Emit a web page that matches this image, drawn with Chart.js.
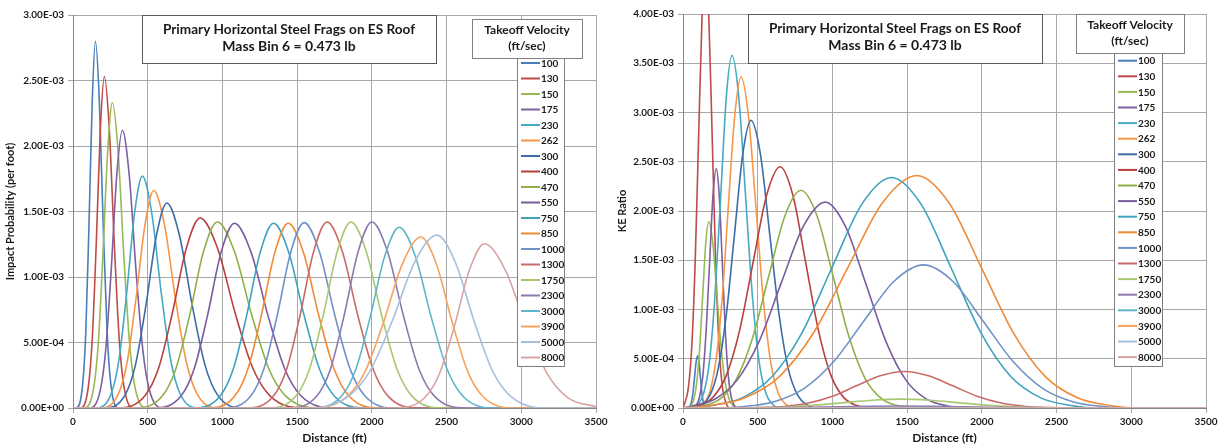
<!DOCTYPE html>
<html>
<head>
<meta charset="utf-8">
<script src="https://cdn.jsdelivr.net/npm/chart.js@4.4.1/dist/chart.umd.min.js"></script>
<style>
  html, body { margin: 0; padding: 0; background: #fff; }
  #wrap { position: relative; width: 1225px; height: 447px; }
  .pane { position: absolute; top: 0; height: 447px; }
  #left-pane { left: 0; width: 612px; }
  #right-pane { left: 612px; width: 613px; }
</style>
</head>
<body>
<div id="wrap">
  <div class="pane" id="left-pane"><canvas id="impact-chart"></canvas></div>
  <div class="pane" id="right-pane"><canvas id="ke-chart"></canvas></div>
</div>
<script>
// ── Data ──────────────────────────────────────────────────────────────────────

const titleLines = ["Primary Horizontal Steel Frags on ES Roof", "Mass Bin 6 = 0.473 lb"];
const legendTitle = ["Takeoff Velocity", "(ft/sec)"];

const velocities = ["100", "130", "150", "175", "230", "262", "300", "400", "470", "550",
                    "750", "850", "1000", "1300", "1750", "2300", "3000", "3900", "5000", "8000"];

const seriesColors = [
  "#4a7ebb", "#be4b48", "#98b954", "#7d60a0", "#46aac5", "#f79646",
  "#3c6ca6", "#b8413e", "#8fb04b", "#7a5c9e", "#3fa3be", "#ef8a36",
  "#6f93c6", "#c96a68", "#a9c673", "#8d79ae", "#5fb6cc", "#f7a35e",
  "#a8bfdc", "#d8a4a3",
];

// impact probability per foot, [distance ft, value x 1e-3]
const impactCurves = [
  [[0,0],[21,0],[64,0.175],[86,0.59],[107,1.40],[129,2.35],[150,2.80],[176,2.35],[202,1.40],[228,0.59],[254,0.175],[306,0],[3500,0]],
  [[0,0],[48,0],[102,0.158],[129,0.531],[156,1.265],[183,2.125],[210,2.53],[243,2.125],[276,1.265],[309,0.531],[342,0.158],[408,0],[3500,0]],
  [[0,0],[74,0],[137,0.146],[169,0.489],[200,1.165],[232,1.957],[263,2.33],[302,1.957],[340,1.165],[379,0.489],[417,0.146],[494,0],[3500,0]],
  [[0,0],[108,0],[182,0.133],[219,0.445],[256,1.06],[293,1.781],[330,2.12],[376,1.781],[421,1.06],[467,0.445],[512,0.133],[603,0],[3500,0]],
  [[0,0],[152,0],[256,0.111],[308,0.372],[360,0.885],[412,1.487],[464,1.77],[527,1.487],[590,0.885],[653,0.372],[716,0.111],[842,0],[3500,0]],
  [[0,0],[183,0],[302,0.104],[362,0.349],[421,0.83],[481,1.394],[540,1.66],[613,1.394],[686,0.83],[759,0.349],[832,0.104],[978,0],[3500,0]],
  [[0,0],[208,0],[348,0.098],[418,0.329],[488,0.783],[558,1.315],[628,1.565],[713,1.315],[798,0.783],[883,0.329],[968,0.098],[1138,0],[3500,0]],
  [[0,0],[295,0],[480,0.091],[573,0.305],[665,0.725],[758,1.218],[850,1.45],[968,1.218],[1085,0.725],[1203,0.305],[1320,0.091],[1555,0],[3500,0]],
  [[0,0],[411,0],[596,0.089],[688,0.298],[781,0.71],[873,1.193],[966,1.42],[1081,1.193],[1196,0.71],[1311,0.298],[1426,0.089],[1656,0],[3500,0]],
  [[0,0],[540,0],[720,0.088],[810,0.296],[900,0.705],[990,1.184],[1080,1.41],[1193,1.184],[1305,0.705],[1418,0.296],[1530,0.088],[1755,0],[3500,0]],
  [[0,0],[802,0],[982,0.088],[1072,0.296],[1162,0.705],[1252,1.184],[1342,1.41],[1445,1.184],[1547,0.705],[1650,0.296],[1752,0.088],[1957,0],[3500,0]],
  [[0,0],[900,0],[1080,0.088],[1170,0.296],[1260,0.705],[1350,1.184],[1440,1.41],[1543,1.184],[1645,0.705],[1748,0.296],[1850,0.088],[2055,0],[3500,0]],
  [[0,0],[1007,0],[1187,0.088],[1277,0.297],[1367,0.708],[1457,1.189],[1547,1.415],[1650,1.189],[1752,0.708],[1855,0.297],[1957,0.088],[2162,0],[3500,0]],
  [[0,0],[1160,0],[1340,0.089],[1430,0.298],[1520,0.71],[1610,1.193],[1700,1.42],[1803,1.193],[1905,0.71],[2008,0.298],[2110,0.089],[2315,0],[3500,0]],
  [[0,0],[1305,0],[1490,0.089],[1583,0.298],[1675,0.71],[1768,1.193],[1860,1.42],[1963,1.193],[2065,0.71],[2168,0.298],[2270,0.089],[2475,0],[3500,0]],
  [[0,0],[1445,0],[1630,0.089],[1723,0.298],[1815,0.71],[1908,1.193],[2000,1.42],[2105,1.193],[2210,0.71],[2315,0.298],[2420,0.089],[2630,0],[3500,0]],
  [[0,0],[1598,0],[1793,0.086],[1891,0.29],[1988,0.69],[2086,1.159],[2183,1.38],[2291,1.159],[2398,0.69],[2506,0.29],[2613,0.086],[2828,0],[3500,0]],
  [[0,0],[1578,0],[1828,0.082],[1953,0.274],[2078,0.653],[2203,1.096],[2328,1.305],[2433,1.096],[2538,0.653],[2643,0.274],[2748,0.082],[2958,0],[3500,0]],
  [[0,0],[1535,0],[1835,0.083],[1985,0.277],[2135,0.66],[2285,1.109],[2435,1.32],[2560,1.109],[2685,0.66],[2810,0.277],[2935,0.083],[3185,0],[3500,0]],
  [[0,0],[2153,0],[2353,0.078],[2453,0.263],[2553,0.627],[2653,1.053],[2753,1.254],[2893,1.053],[3033,0.627],[3173,0.263],[3313,0.078],[3500,0.01]],
];

// KE ratio, [distance ft, value x 1e-3]
const keCurves = [
  [[0,0],[28,0],[48,0.023],[58,0.072],[68,0.172],[78,0.321],[88,0.468],[98,0.53],[107,0.468],[116,0.321],[125,0.172],[134,0.072],[143,0.023],[161,0],[3500,0]],
  [[0,0],[12,0.05],[35,0.197],[58,0.606],[81,1.455],[104,2.717],[127,3.954],[150,4.48],[173,3.954],[196,2.717],[219,1.455],[242,0.606],[265,0.197],[288,0.05],[311,0],[3500,0]],
  [[0,0],[32,0],[52,0.021],[72,0.083],[92,0.256],[112,0.614],[132,1.146],[152,1.668],[172,1.89],[200,1.668],[227,1.146],[255,0.614],[282,0.256],[310,0.083],[337,0.021],[365,0],[3500,0]],
  [[0,0],[65,0],[88,0.027],[110,0.107],[133,0.329],[155,0.789],[178,1.474],[200,2.144],[223,2.43],[243,2.144],[263,1.474],[283,0.789],[303,0.329],[323,0.107],[343,0.027],[363,0],[3500,0]],
  [[0,0],[65,0],[103,0.04],[140,0.157],[178,0.484],[215,1.162],[253,2.171],[290,3.159],[328,3.58],[373,3.159],[418,2.171],[463,1.162],[508,0.484],[553,0.157],[598,0.04],[643,0],[3500,0]],
  [[0,0],[90,0],[133,0.037],[176,0.148],[218,0.455],[261,1.091],[303,2.038],[346,2.965],[388,3.36],[438,2.965],[488,2.038],[538,1.091],[588,0.455],[638,0.148],[688,0.037],[738,0],[3500,0]],
  [[0,0],[70,0],[125,0.032],[180,0.128],[235,0.395],[290,0.948],[345,1.771],[400,2.577],[455,2.92],[518,2.577],[580,1.771],[643,0.948],[705,0.395],[768,0.128],[830,0.032],[893,0],[3500,0]],
  [[0,0],[20,0],[110,0.027],[200,0.108],[290,0.331],[380,0.796],[470,1.486],[560,2.162],[650,2.45],[735,2.162],[820,1.486],[905,0.796],[990,0.331],[1075,0.108],[1160,0.027],[1245,0],[3500,0]],
  [[0,0],[37,0],[144,0.025],[252,0.097],[359,0.299],[467,0.718],[574,1.34],[682,1.95],[789,2.21],[897,1.95],[1004,1.34],[1112,0.718],[1219,0.299],[1327,0.097],[1434,0.025],[1542,0],[3500,0]],
  [[0,0],[67,0.023],[215,0.092],[362,0.283],[510,0.679],[657,1.268],[805,1.844],[952,2.09],[1087,1.844],[1222,1.268],[1357,0.679],[1492,0.283],[1627,0.092],[1762,0.023],[1897,0],[3500,0]],
  [[0,0],[195,0.026],[395,0.103],[595,0.317],[795,0.76],[995,1.419],[1195,2.065],[1395,2.34],[1595,2.065],[1795,1.419],[1995,0.76],[2195,0.317],[2395,0.103],[2595,0.026],[2795,0],[3500,0]],
  [[0,0],[185,0.026],[415,0.104],[645,0.319],[875,0.766],[1105,1.431],[1335,2.083],[1565,2.36],[1780,2.083],[1995,1.431],[2210,0.766],[2425,0.319],[2640,0.104],[2855,0.026],[3070,0],[3500,0]],
  [[0,0],[209,0],[409,0.016],[609,0.064],[809,0.197],[1009,0.472],[1209,0.881],[1409,1.282],[1609,1.453],[1809,1.282],[2009,0.881],[2209,0.472],[2409,0.197],[2609,0.064],[2809,0.016],[3009,0],[3500,0]],
  [[0,0],[360,0],[520,0.004],[680,0.016],[840,0.05],[1000,0.12],[1160,0.225],[1320,0.327],[1480,0.371],[1643,0.327],[1805,0.225],[1968,0.12],[2130,0.05],[2293,0.016],[2455,0.004],[2618,0],[3500,0]],
  [[0,0],[320,0],[510,0.004],[700,0.012],[890,0.029],[1080,0.055],[1270,0.079],[1460,0.09],[1650,0.079],[1840,0.055],[2030,0.029],[2220,0.012],[2410,0.004],[2790,0],[3500,0]],
  [[0,0],[450,0.002],[850,0.007],[1050,0.012],[1250,0.018],[1450,0.02],[1650,0.018],[1850,0.012],[2050,0.007],[2450,0.002],[3500,0]],
  [[0,0],[850,0.002],[1450,0.005],[2050,0.002],[3500,0]],
  [[0,0],[1450,0.002],[3500,0]],
  [[0,0],[1450,0.001],[3500,0]],
  [[0,0],[3500,0]],
];

// ── Helpers ───────────────────────────────────────────────────────────────────

const FONT = "Lato, 'Open Sans', sans-serif";
const INK = "#1a1a1a";

function sci(v) {
  if (Math.abs(v) < 1e-12) return "0.00E+00";
  const e = Math.floor(Math.log10(Math.abs(v)) + 1e-9);
  const m = v / Math.pow(10, e);
  return m.toFixed(2) + "E" + (e < 0 ? "-" : "+") + String(Math.abs(e)).padStart(2, "0");
}

function box(ctx, b, stroke) {
  ctx.fillStyle = "#fff";
  ctx.fillRect(b.x, b.y, b.w, b.h);
  ctx.strokeStyle = stroke;
  ctx.lineWidth = 1;
  ctx.strokeRect(b.x + 0.5, b.y + 0.5, b.w, b.h);
}

// title box + legend drawn on top of the plot, like the Excel overlays
const overlayPlugin = {
  id: "overlay",
  afterDraw(chart, args, o) {
    const ctx = chart.ctx;
    ctx.save();
    ctx.textBaseline = "middle";

    box(ctx, o.title, "#5a5a5a");
    ctx.fillStyle = INK;
    ctx.textAlign = "center";
    ctx.font = `bold 14px ${FONT}`;
    const cx = o.title.x + o.title.w / 2;
    ctx.fillText(titleLines[0], cx, o.title.y + 14, 252);
    ctx.fillText(titleLines[1], cx, o.title.y + 31);

    box(ctx, o.head, "#7f7f7f");
    ctx.fillStyle = INK;
    ctx.font = `bold 12px ${FONT}`;
    const hx = o.head.x + o.head.w / 2;
    ctx.fillText(legendTitle[0], hx, o.head.y + 11, 88);
    ctx.fillText(legendTitle[1], hx, o.head.y + 27);

    const L = o.list;
    box(ctx, L, "#7f7f7f");
    ctx.textAlign = "left";
    ctx.font = `bold 10px ${FONT}`;
    chart.data.datasets.forEach((ds, i) => {
      const y = L.first + i * L.step;
      ctx.strokeStyle = ds.borderColor;
      ctx.lineWidth = 2;
      ctx.beginPath();
      ctx.moveTo(L.x + 4, y);
      ctx.lineTo(L.x + 23, y);
      ctx.stroke();
      ctx.fillStyle = INK;
      ctx.fillText(ds.label, L.x + 24, y + 0.5);
    });
    ctx.restore();
  },
};

function makeChart(canvasId, curves, yMax, yTitle, pad, yWidth, overlay) {
  const datasets = curves.map((pts, i) => ({
    label: velocities[i],
    data: pts.map(([x, y]) => ({ x, y: y / 1000 })),
    borderColor: seriesColors[i],
    borderWidth: 1.6,
    pointRadius: 0,
    fill: false,
    cubicInterpolationMode: "monotone",
    order: curves.length - i,
  }));

  const tickFont = { family: FONT, size: 10, weight: "bold" };
  const ctx = document.getElementById(canvasId).getContext("2d");
  return new Chart(ctx, {
    type: "line",
    data: { datasets },
    plugins: [overlayPlugin],
    options: {
      responsive: true,
      maintainAspectRatio: false,
      animation: false,
      layout: { padding: pad },
      plugins: {
        legend: { display: false },
        tooltip: { enabled: false },
        overlay,
      },
      scales: {
        x: {
          type: "linear", min: 0, max: 3500,
          ticks: { stepSize: 500, color: INK, font: tickFont, padding: 3, maxRotation: 0,
                   callback: v => String(v) },
          grid: { color: "#a8a8a8", tickLength: 5 },
          border: { color: "#868686" },
          title: { display: true, text: "Distance (ft)", color: INK,
                   font: { family: FONT, size: 12, weight: "bold" }, padding: { top: 0, bottom: 2 } },
          afterFit: s => { s.height = 39; },
        },
        y: {
          min: 0, max: yMax,
          ticks: { stepSize: 0.0005, color: INK, font: tickFont, padding: 4, callback: v => sci(v) },
          grid: { color: "#a8a8a8", tickLength: 5 },
          border: { color: "#868686" },
          title: { display: true, text: yTitle, color: INK,
                   font: { family: FONT, size: 11, weight: "bold" }, padding: { top: 4, bottom: 0 } },
          afterFit: s => { s.width = yWidth; },
        },
      },
    },
  });
}

makeChart("impact-chart", impactCurves, 0.003, "Impact Probability (per foot)",
  { top: 15, right: 16, bottom: 0, left: 0 }, 73,
  {
    title: { x: 142, y: 15, w: 294, h: 48 },
    head: { x: 472, y: 19, w: 110, h: 39 },
    list: { x: 517, y: 58, w: 47, h: 308, first: 63, step: 15.5 },
  });

makeChart("ke-chart", keCurves, 0.004, "KE Ratio",
  { top: 14, right: 19, bottom: 0, left: 0 }, 71,
  {
    title: { x: 136, y: 14, w: 294, h: 49 },
    head: { x: 464, y: 14, w: 108, h: 39 },
    list: { x: 502, y: 53, w: 48, h: 313, first: 60.7, step: 15.6 },
  });
</script>
</body>
</html>
